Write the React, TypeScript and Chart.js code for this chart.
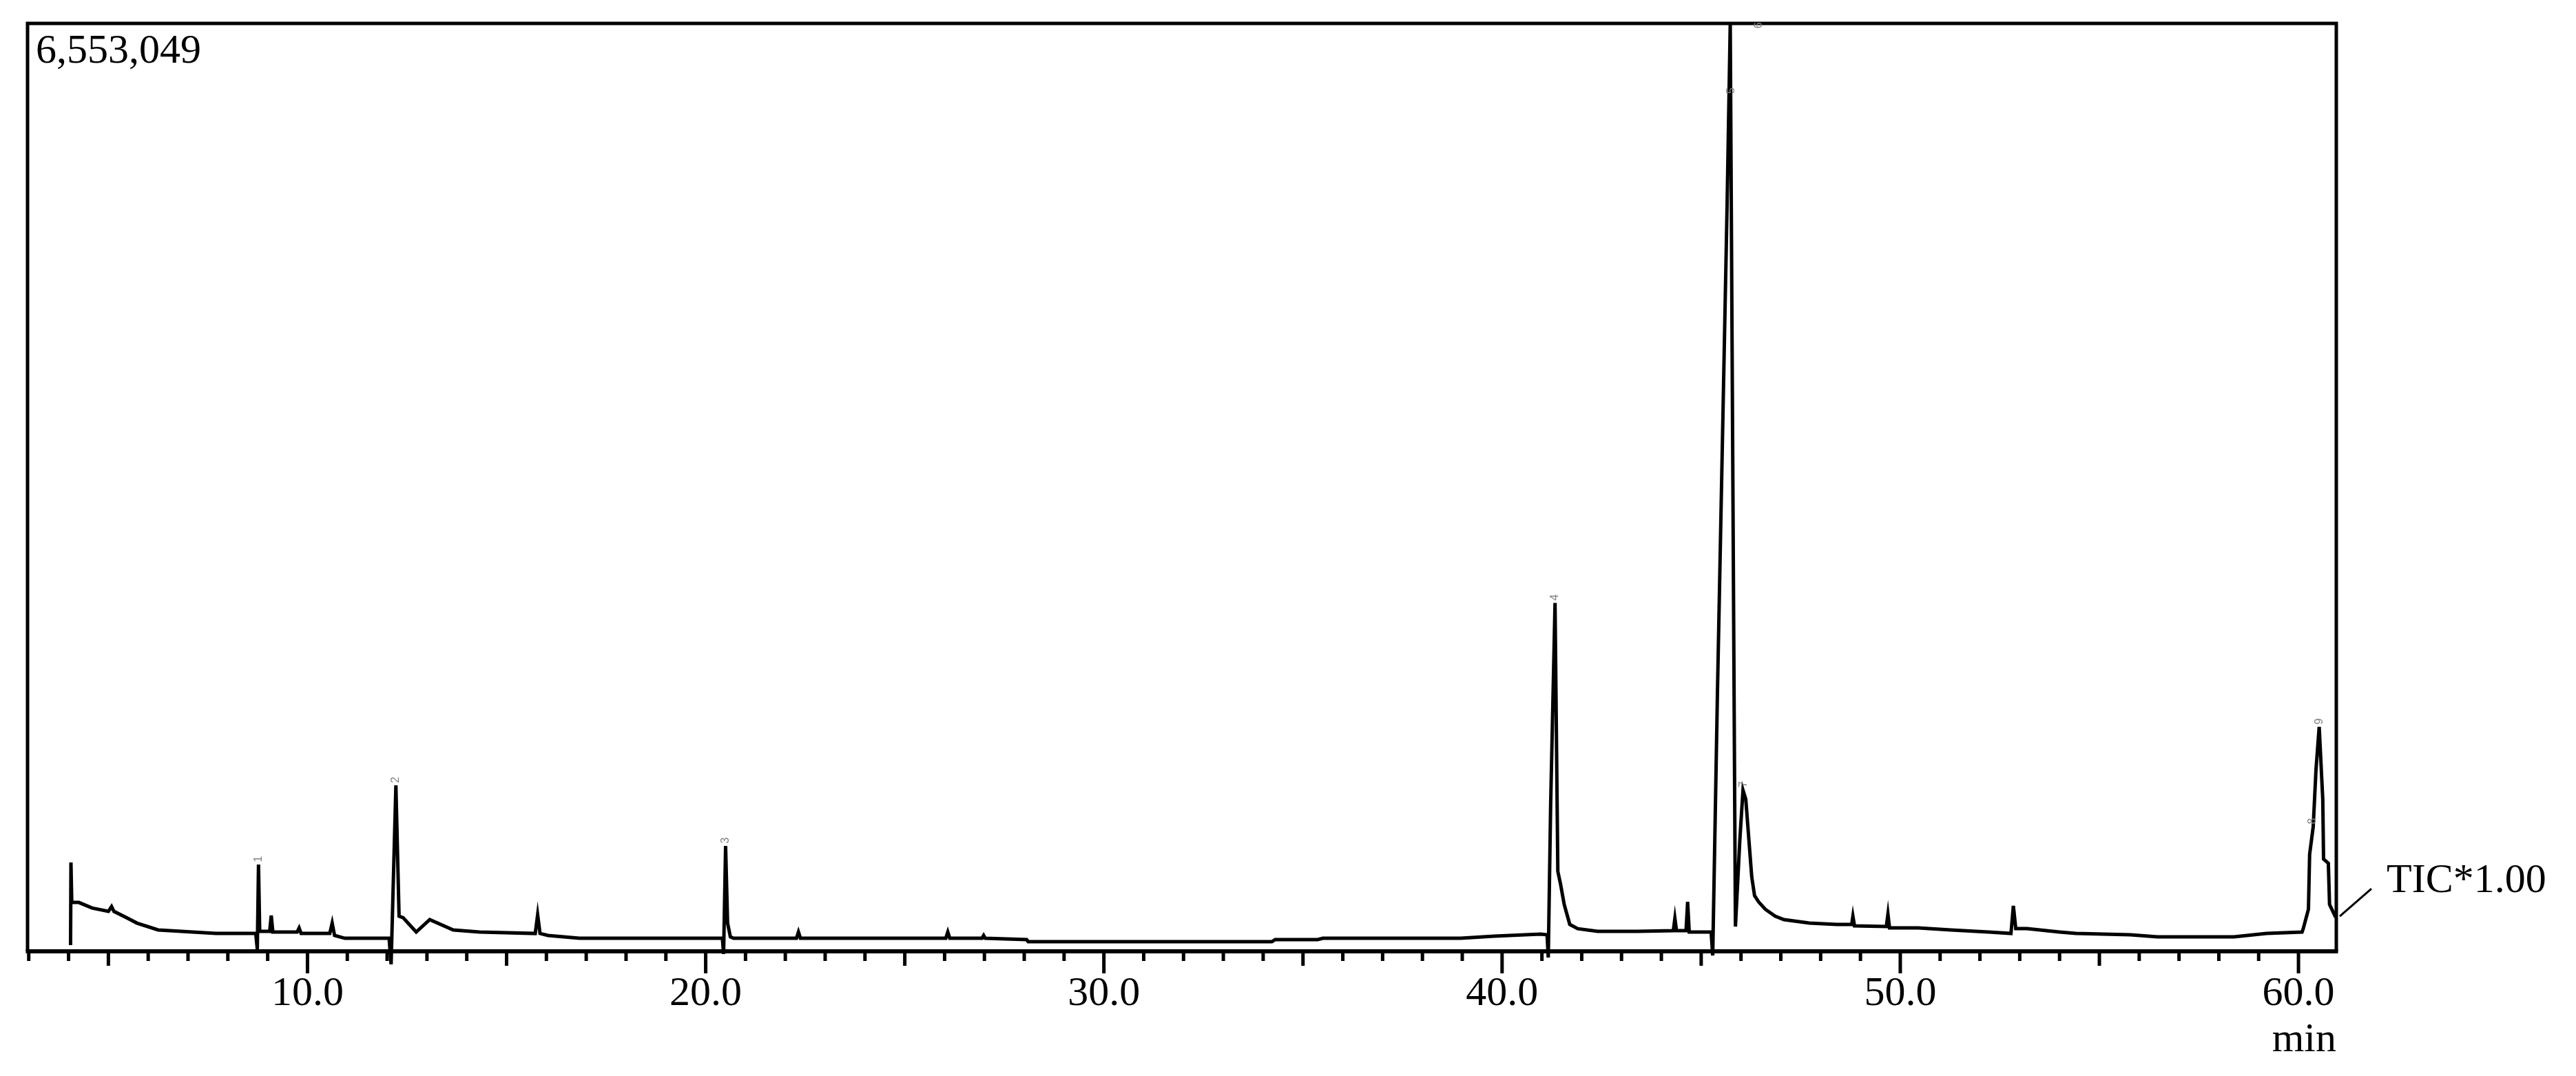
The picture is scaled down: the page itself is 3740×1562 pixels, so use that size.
import React, { useEffect, useRef } from "react";
import { Chart, registerables } from "chart.js";

Chart.register(...registerables);

// Retention time (min) and TIC intensity (counts)
const retentionTimes = [
  4.05, 4.06, 4.08, 4.26, 4.59, 5.0, 5.08, 5.14, 5.45, 5.72, 6.25, 7.7,
  8.7, 8.74, 8.77, 8.8, 9.05, 9.09, 9.13, 9.74, 9.79, 9.84, 10.56, 10.62,
  10.68, 10.94, 12.05, 12.1, 12.22, 12.3, 12.4, 12.73, 13.07, 13.66, 14.32,
  15.72, 15.78, 15.84, 16.04, 16.83, 20.42, 20.45, 20.5, 20.55, 20.62, 20.7,
  22.28, 22.33, 22.38, 26.03, 26.08, 26.13, 26.94, 26.98, 27.02, 28.06,
  28.1, 34.22, 34.3, 35.37, 35.5, 38.96, 39.8, 40.97, 41.13, 41.16, 41.22,
  41.33, 41.4, 41.47, 41.56, 41.7, 41.9, 42.4, 43.4, 44.3, 44.34, 44.38,
  44.62, 44.66, 44.7, 45.25, 45.29, 45.41, 45.65, 45.73, 45.86, 45.97,
  46.05, 46.12, 46.27, 46.34, 46.44, 46.61, 46.86, 47.08, 47.72, 48.41,
  48.78, 48.81, 48.85, 49.65, 49.69, 49.73, 50.45, 51.27, 52.22, 52.78,
  52.84, 52.9, 53.18, 54.0, 54.41, 55.78, 56.46, 58.38, 59.2, 60.09, 60.12,
  60.25, 60.28, 60.37, 60.44, 60.52, 60.61, 60.63, 60.75, 60.78, 60.92,
  60.95,
];

const ticIntensities = [
  44000, 627000, 345000, 345000, 306000, 282000, 316000, 282000, 238000,
  199000, 151000, 126000, 126000, 15000, 613000, 141000, 141000, 253000,
  136000, 136000, 165000, 126000, 126000, 199000, 112000, 92000, 92000,
  -92000, 1172000, 248000, 238000, 136000, 224000, 151000, 136000, 126000,
  258000, 126000, 112000, 92000, 92000, -19000, 744000, 199000, 102000,
  92000, 92000, 136000, 92000, 92000, 136000, 92000, 92000, 112000, 92000,
  83000, 68000, 68000, 83000, 83000, 92000, 92000, 107000, 122000, 117000,
  -44000, 1040000, 2460000, 564000, 472000, 331000, 190000, 160000, 141000,
  141000, 146000, 233000, 146000, 146000, 350000, 136000, 136000, -29000,
  1852000, 5255000, 6553049, 175000, 783000, 1138000, 1074000, 525000,
  394000, 350000, 297000, 248000, 224000, 199000, 190000, 190000, 248000,
  180000, 175000, 263000, 165000, 165000, 151000, 136000, 126000, 321000,
  160000, 160000, 136000, 126000, 117000, 102000, 102000, 126000, 136000,
  160000, 297000, 685000, 880000, 1283000, 1585000, 1074000, 651000, 622000,
  331000, 248000, 248000,
];

// Peak number labels (anchor positions at peak apexes)
const peakLabelTimes = [8.77, 12.22, 20.5, 41.33, 45.75, 46.45, 46.07, 60.36, 60.52];
const peakLabelValues = [613000, 1172000, 744000, 2460000, 6040000, 6500000, 1140000, 880000, 1585000];
const peakLabelTexts = ["1", "2", "3", "4", "5", "6", "7", "8", "9"];

const xTickLabelStep = 10;
const minorTickStep = 1;
const X_MIN = 2.97;
const X_MAX = 60.95;
const Y_MAX = 6553049;
const traceLabel = "TIC*1.00";
const xUnit = "min";

const FONT = "Liberation Serif";

const framePlugin = {
  id: "frameAndTicks",
  afterDatasetsDraw(chart: any) {
    const { ctx, chartArea } = chart;
    const { left, right, top, bottom } = chartArea;
    const xs = chart.scales.x;
    const ys = chart.scales.y;
    ctx.save();
    ctx.strokeStyle = "#000";
    ctx.fillStyle = "#000";
    ctx.lineWidth = 5;
    ctx.beginPath();
    ctx.moveTo(left, bottom);
    ctx.lineTo(left, top);
    ctx.lineTo(right, top);
    ctx.lineTo(right, bottom);
    ctx.stroke();
    ctx.lineWidth = 6;
    ctx.beginPath();
    ctx.moveTo(left - 2.5, bottom);
    ctx.lineTo(right + 2.5, bottom);
    ctx.stroke();

    // tick marks
    ctx.lineWidth = 5;
    for (let t = Math.ceil(xs.min); t <= xs.max; t += minorTickStep) {
      const px = xs.getPixelForValue(t);
      const len = t % 10 === 0 ? 32 : t % 5 === 0 ? 21 : 14;
      ctx.beginPath();
      ctx.moveTo(px, bottom);
      ctx.lineTo(px, bottom + len);
      ctx.stroke();
    }

    // max intensity label
    ctx.font = `60px "${FONT}"`;
    ctx.textAlign = "left";
    ctx.textBaseline = "alphabetic";
    ctx.fillText(Math.round(ys.max).toLocaleString("en-US"), left + 12, top + 57);

    // trace label with leader line
    const lastT = retentionTimes[retentionTimes.length - 1];
    const lastV = ticIntensities[ticIntensities.length - 1];
    const ex = xs.getPixelForValue(lastT);
    const ey = ys.getPixelForValue(lastV);
    ctx.lineWidth = 3;
    ctx.beginPath();
    ctx.moveTo(ex + 5, ey);
    ctx.lineTo(ex + 51, ey - 40);
    ctx.stroke();
    ctx.fillText(traceLabel, ex + 73, ey - 35);

    // peak number labels
    ctx.fillStyle = "#808080";
    ctx.font = `16px "Liberation Sans"`;
    ctx.textAlign = "center";
    ctx.textBaseline = "middle";
    for (let i = 0; i < peakLabelTimes.length; i++) {
      const px = xs.getPixelForValue(peakLabelTimes[i]);
      const py = ys.getPixelForValue(peakLabelValues[i]);
      ctx.save();
      ctx.translate(px, py - 8);
      ctx.rotate(-Math.PI / 2);
      ctx.fillText(peakLabelTexts[i], 0, 0);
      ctx.restore();
    }
    ctx.restore();
  },
};

export default function App() {
  const ref = useRef<HTMLCanvasElement>(null);
  useEffect(() => {
    document.body.style.margin = "0";
    document.body.style.background = "#fff";
    const points = retentionTimes.map((t, i) => ({ x: t, y: ticIntensities[i] }));
    const chart = new Chart(ref.current as HTMLCanvasElement, {
      type: "line",
      data: {
        datasets: [
          {
            data: points,
            borderColor: "#000",
            borderWidth: 5,
            pointRadius: 0,
            tension: 0,
            fill: false,
            clip: { left: 0, top: 0, right: 0, bottom: 30 } as any,
          },
        ],
      },
      options: {
        animation: false,
        responsive: false,
        maintainAspectRatio: false,
        layout: { padding: { left: 40, top: 34, right: 348, bottom: 0 } },
        plugins: {
          legend: { display: false },
          tooltip: { enabled: false },
          title: { display: false },
        },
        scales: {
          x: {
            type: "linear",
            min: X_MIN,
            max: X_MAX,
            grid: { display: false, drawTicks: false },
            border: { display: false },
            ticks: {
              stepSize: xTickLabelStep,
              includeBounds: false,
              autoSkip: false,
              maxRotation: 0,
              minRotation: 0,
              padding: 26,
              color: "#000",
              font: { family: FONT, size: 60 },
              callback: (v: any) => Number(v).toFixed(1),
            },
            title: {
              display: true,
              text: xUnit,
              align: "end",
              color: "#000",
              font: { family: FONT, size: 60 },
              padding: { top: 0, bottom: 16 },
            },
            afterFit: (s: any) => {
              s.height = 181;
            },
          },
          y: {
            type: "linear",
            display: false,
            min: 0,
            max: Y_MAX,
          },
        },
      },
      plugins: [framePlugin],
    });
    return () => chart.destroy();
  }, []);
  return (
    <div style={{ position: "fixed", left: 0, top: 0, width: 3740, height: 1562, background: "#fff" }}>
      <canvas ref={ref} width={3740} height={1562} style={{ width: 3740, height: 1562, display: "block" }} />
    </div>
  );
}
